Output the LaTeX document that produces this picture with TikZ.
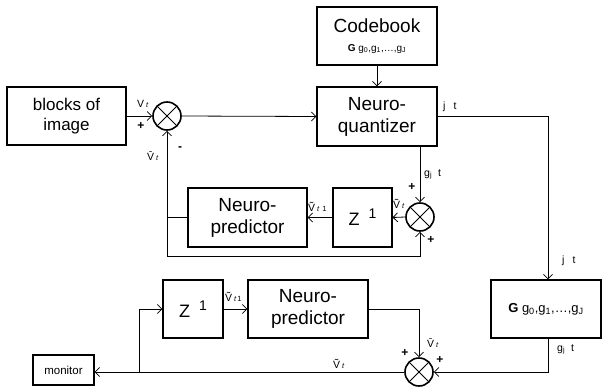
\documentclass[tikz,border=0pt]{standalone}
\usepackage{fontspec}
\setmainfont{Liberation Sans}
\usetikzlibrary{arrows.meta}
\newcommand\fsz[1]{\fontsize{#1}{#1}\selectfont}
\newcommand\lt{\hspace{2pt}{\fsz{7.5}\itshape t}}
\newcommand\barV{V\symbol{"0304}}
\newcommand\tilV{V\symbol{"0303}}
\begin{document}
\begin{tikzpicture}[x=1pt,y=-1pt,
  >={Straight Barb[length=4.5pt,width=9pt]},
  box/.style={draw,line width=1.1pt,inner sep=0pt,align=center,font=\fontsize{19}{22}\selectfont},
  line/.style={line width=0.8pt},
  sumnode/.style={circle,draw,line width=1.6pt,minimum size=28pt,inner sep=0pt,
    path picture={\draw[line width=1pt] (path picture bounding box.center) +(45:14pt) -- +(225:14pt)
      (path picture bounding box.center) +(135:14pt) -- +(-45:14pt);}},
  lab/.style={inner sep=0pt,anchor=base west,font=\fsz{10.5}},
  pm/.style={inner sep=0pt,font=\fsz{12}\bfseries}]
\useasboundingbox (0,0) rectangle (603,386);

% boxes
\node[box,minimum width=119pt,minimum height=58pt,font=\fontsize{17}{20}\selectfont] (blk) at (66.5,116) {blocks of\\image};
\node[sumnode] (s1) at (167,116) {};
\node[box,minimum width=120pt,minimum height=59pt] (nq) at (377,116.5) {Neuro-\\quantizer};
\node[box,minimum width=120pt,minimum height=58pt] (cb) at (377,36) {Codebook\\[-3pt]{\fsz{10}\textbf{G} g\textsubscript{0},g\textsubscript{1},\ldots,g\textsubscript{J}}};
\node[sumnode] (s2) at (420,217) {};
\node[box,minimum width=59pt,minimum height=59pt] (z1) at (362.5,217.5) {\fsz{18}Z\hspace{9pt}\raisebox{7pt}{\fsz{14}1}};
\node[box,minimum width=119pt,minimum height=59pt] (np1) at (247.5,217.5) {Neuro-\\predictor};
\node[box,minimum width=110pt,minimum height=58pt,font=\fsz{13}] (gb) at (546,309) {\textbf{G} g\textsubscript{0},g\textsubscript{1},\ldots,g\textsubscript{J}};
\node[box,minimum width=60pt,minimum height=58pt] (z2) at (193,309) {\fsz{18}Z\hspace{9pt}\raisebox{7pt}{\fsz{14}1}};
\node[box,minimum width=120pt,minimum height=58pt] (np2) at (308,309) {Neuro-\\predictor};
\node[sumnode] (s3) at (419,372) {};
\node[box,minimum width=61pt,minimum height=30pt,font=\fsz{11.5}] (mon) at (63.5,370) {monitor};

% connectors
\coordinate (lb) at (167,256);
\coordinate (br) at (139,372);
\draw[line,->] (blk.east) -- (s1.west);
\draw[line,->] (s1.east) -- (nq.west);
\draw[line,->] (cb.south) -- (nq.north);
\draw[line,->] (nq.east) -| ([xshift=2pt]gb.north);
\draw[line,->] (nq.south -| s2) -- (s2.north);
\draw[line,->] (s2.west) -- (z1.east);
\draw[line,->] (z1.west) -- (np1.east);
\draw[line] (np1.west) -- (np1.west -| s1);
\draw[line,->] (lb) -- (s1.south);
\draw[line,->] (lb) -| (s2.south);
\draw[line,->] ([xshift=2pt]gb.south) |- (s3.east);
\draw[line,->] (np2.east) -| (s3.north);
\draw[line,->] (s3.west) -- (s3.west -| mon.east);
\draw[line,->] (br) |- (z2.west);
\draw[line,->] (z2.east) -- (np2.west);

% labels
\node[lab] (l1) at (137,107) {V\lt};
\node[pm] (p1) at (141,126) {+};
\node[lab] (l2) at (147,160) {\barV\lt};
\node[pm] (m1) at (180,149) {-};
\node[lab] (l3) at (443,109) {j\hspace{8pt}t};
\node[lab] (l4) at (424,176) {g\textsubscript{j}\hspace{6pt}t};
\node[pm] (p2) at (412,187) {+};
\node[lab] (l5) at (393,208) {\tilV\lt};
\node[pm] (p3) at (431,240) {+};
\node[lab] (l6) at (308,211) {\tilV\lt\hspace{3pt}{\fsz{7.5}1}};
\node[lab] (l7) at (225,301) {\tilV\lt\hspace{1pt}{\fsz{7.5}1}};
\node[lab] (l8) at (562,263) {j\hspace{8pt}t};
\node[lab] (l9) at (557,351) {g\textsubscript{j}\hspace{6pt}t};
\node[lab] (l10) at (427,347) {\barV\lt};
\node[pm] (p4) at (405,353) {+};
\node[pm] (p5) at (440,360) {+};
\node[lab] (l11) at (333,368) {\tilV\lt};
\end{tikzpicture}
\end{document}
